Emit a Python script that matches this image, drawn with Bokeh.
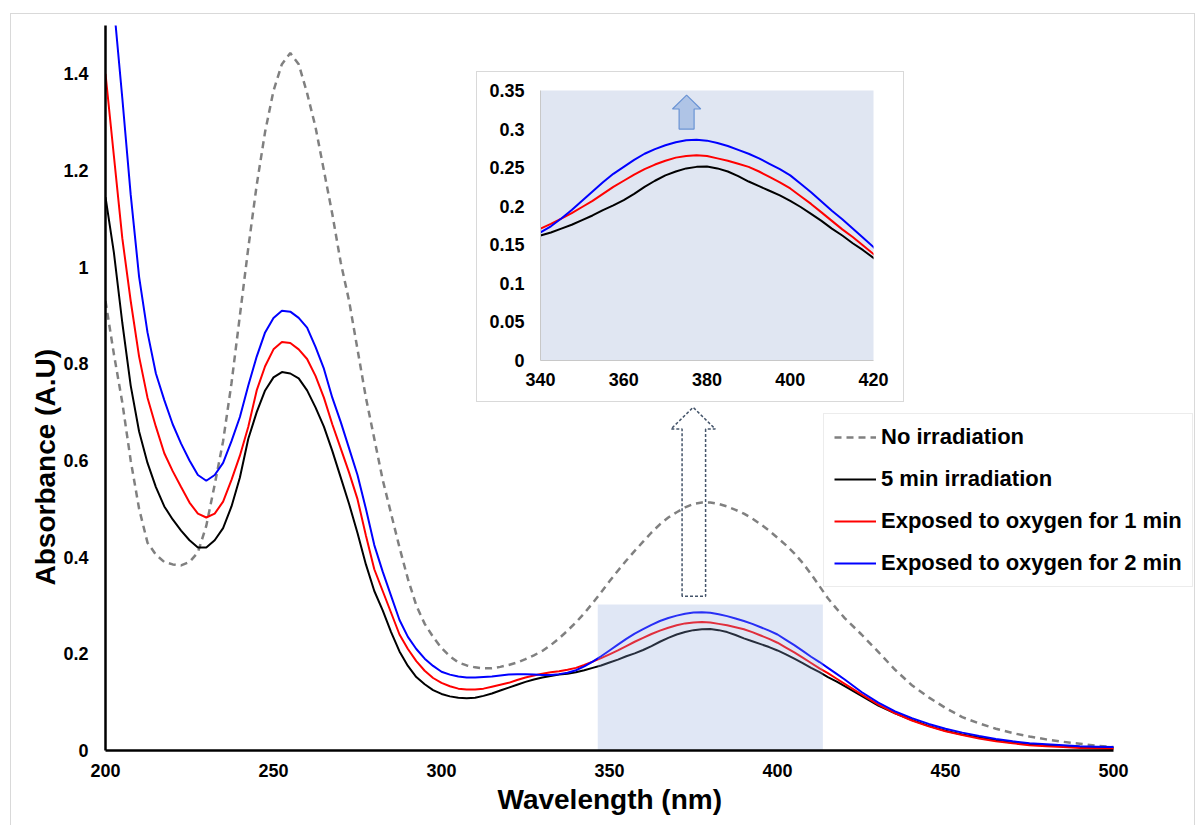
from bokeh.plotting import figure
from bokeh.models import Range1d, FixedTicker, Legend, LegendItem, Title, Div
from bokeh.embed import file_html
from bokeh.resources import INLINE

# ---------------- data ----------------
# wavelength grid: 2.5 nm steps up to 420 nm, 5 nm steps in the tail
wl_uv = [200, 202.5, 205, 207.5, 210, 212.5, 215, 217.5, 220, 222.5, 225, 227.5,
         230, 232.5, 235, 237.5, 240, 242.5, 245, 247.5, 250, 252.5, 255, 257.5,
         260, 262.5, 265, 267.5, 270, 272.5, 275, 277.5, 280, 282.5, 285, 287.5,
         290, 292.5, 295, 297.5, 300]
wl_band = [302.5, 305, 307.5, 310, 312.5, 315, 317.5, 320, 322.5, 325, 327.5, 330,
           332.5, 335, 337.5, 340, 342.5, 345, 347.5, 350, 352.5, 355, 357.5, 360,
           362.5, 365, 367.5, 370, 372.5, 375, 377.5, 380, 382.5, 385, 387.5, 390,
           392.5, 395, 397.5, 400, 402.5, 405, 407.5, 410, 412.5, 415, 417.5, 420]
wl_tail = [425, 430, 435, 440, 445, 450, 455, 460, 465, 470, 475, 480, 485, 490, 495, 500]

no_irr_uv = [0.93, 0.82, 0.72, 0.60, 0.50, 0.43, 0.405, 0.39, 0.385, 0.383, 0.39, 0.41,
             0.465, 0.55, 0.64, 0.76, 0.90, 1.04, 1.17, 1.28, 1.365, 1.42, 1.443, 1.42,
             1.36, 1.29, 1.20, 1.11, 1.01, 0.93, 0.83, 0.73, 0.645, 0.56, 0.49, 0.42,
             0.355, 0.30, 0.262, 0.235, 0.212]
no_irr_band = [0.195, 0.182, 0.176, 0.172, 0.170, 0.170, 0.173, 0.177, 0.182, 0.189, 0.197, 0.206,
               0.218, 0.232, 0.248, 0.265, 0.284, 0.305, 0.327, 0.35, 0.372, 0.393, 0.413, 0.432,
               0.451, 0.468, 0.482, 0.493, 0.503, 0.510, 0.513, 0.513, 0.510, 0.505, 0.498, 0.49,
               0.48, 0.468, 0.455, 0.44, 0.425, 0.408, 0.388, 0.365, 0.34, 0.315, 0.294, 0.274]
no_irr_tail = [0.24, 0.204, 0.167, 0.135, 0.11, 0.088, 0.069, 0.056, 0.045, 0.036, 0.029,
               0.023, 0.018, 0.014, 0.010, 0.007]

irr5_uv = [1.145, 1.03, 0.885, 0.755, 0.66, 0.595, 0.545, 0.505, 0.478, 0.455, 0.435, 0.42,
           0.42, 0.435, 0.46, 0.505, 0.565, 0.645, 0.70, 0.745, 0.772, 0.783, 0.78, 0.77,
           0.745, 0.71, 0.67, 0.62, 0.565, 0.51, 0.45, 0.385, 0.33, 0.29, 0.245, 0.205,
           0.175, 0.152, 0.137, 0.125, 0.117]
irr5_band = [0.112, 0.109, 0.108, 0.109, 0.113, 0.118, 0.124, 0.13, 0.136, 0.142, 0.147, 0.151,
             0.154, 0.157, 0.159, 0.162, 0.166, 0.171, 0.176, 0.182, 0.188, 0.195, 0.201, 0.208,
             0.216, 0.225, 0.233, 0.240, 0.245, 0.249, 0.251, 0.2515, 0.249, 0.245, 0.239, 0.232,
             0.226, 0.22, 0.214, 0.207, 0.199, 0.19, 0.181, 0.171, 0.162, 0.152, 0.143, 0.133]
irr5_tail = [0.113, 0.093, 0.077, 0.063, 0.051, 0.041, 0.033, 0.027, 0.021, 0.016, 0.013,
             0.011, 0.009, 0.007, 0.006, 0.005]

ox1_uv = [1.40, 1.23, 1.06, 0.93, 0.815, 0.73, 0.67, 0.615, 0.578, 0.545, 0.513, 0.49,
          0.482, 0.49, 0.515, 0.56, 0.61, 0.67, 0.745, 0.795, 0.83, 0.845, 0.843, 0.83,
          0.81, 0.775, 0.73, 0.675, 0.625, 0.575, 0.52, 0.445, 0.375, 0.33, 0.285, 0.24,
          0.21, 0.185, 0.165, 0.15, 0.14]
ox1_band = [0.133, 0.128, 0.126, 0.126, 0.128, 0.132, 0.136, 0.14, 0.146, 0.151, 0.155, 0.159,
            0.162, 0.164, 0.167, 0.171, 0.177, 0.184, 0.191, 0.199, 0.207, 0.216, 0.225, 0.233,
            0.241, 0.248, 0.254, 0.259, 0.263, 0.265, 0.266, 0.265, 0.262, 0.259, 0.255, 0.251,
            0.245, 0.238, 0.231, 0.223, 0.213, 0.203, 0.192, 0.181, 0.17, 0.16, 0.149, 0.138]
ox1_tail = [0.116, 0.095, 0.077, 0.062, 0.05, 0.04, 0.032, 0.025, 0.019, 0.015, 0.011,
            0.009, 0.007, 0.005, 0.004, 0.003]

ox2_uv = [1.72, 1.54, 1.35, 1.15, 0.98, 0.865, 0.78, 0.725, 0.675, 0.635, 0.60, 0.57,
          0.558, 0.57, 0.595, 0.64, 0.69, 0.755, 0.815, 0.865, 0.895, 0.91, 0.908, 0.895,
          0.875, 0.835, 0.79, 0.73, 0.68, 0.625, 0.57, 0.50, 0.425, 0.37, 0.32, 0.27,
          0.235, 0.21, 0.19, 0.175, 0.163]
ox2_band = [0.157, 0.153, 0.151, 0.151, 0.152, 0.153, 0.155, 0.157, 0.158, 0.158, 0.157, 0.156,
            0.156, 0.158, 0.161, 0.166, 0.174, 0.184, 0.195, 0.207, 0.219, 0.231, 0.242, 0.251,
            0.26, 0.268, 0.274, 0.279, 0.283, 0.2855, 0.286, 0.285, 0.282, 0.278, 0.273, 0.268,
            0.262, 0.255, 0.248, 0.24, 0.229, 0.218, 0.206, 0.194, 0.183, 0.171, 0.159, 0.147]
ox2_tail = [0.121, 0.099, 0.081, 0.067, 0.055, 0.045, 0.037, 0.030, 0.024, 0.019, 0.015,
            0.013, 0.011, 0.009, 0.008, 0.007]

wavelength = wl_uv + wl_band + wl_tail
no_irradiation = no_irr_uv + no_irr_band + no_irr_tail
irradiated_5min = irr5_uv + irr5_band + irr5_tail
oxygen_1min = ox1_uv + ox1_band + ox1_tail
oxygen_2min = ox2_uv + ox2_band + ox2_tail

series_labels = ["No irradiation", "5 min irradiation",
                 "Exposed to oxygen for 1 min", "Exposed to oxygen for 2 min"]

main_x_ticks = [200, 250, 300, 350, 400, 450, 500]
main_y_ticks = [0, 0.2, 0.4, 0.6, 0.8, 1.0, 1.2, 1.4]
main_y_labels = ["0", "0.2", "0.4", "0.6", "0.8", "1", "1.2", "1.4"]
inset_x_ticks = [340, 360, 380, 400, 420]
inset_y_ticks = [0, 0.05, 0.1, 0.15, 0.2, 0.25, 0.3, 0.35]
inset_y_labels = ["0", "0.05", "0.1", "0.15", "0.2", "0.25", "0.3", "0.35"]

# highlighted region in the main plot and the arrows
zoom_box_x = [346.5, 413.5]
zoom_box_y = [0.0, 0.302]
big_arrow_x = [371.6, 371.6, 368.3, 374.9, 381.5, 378.6, 378.6]
big_arrow_y = [0.319, 0.665, 0.665, 0.710, 0.665, 0.665, 0.319]
small_arrow_x = [373.3, 373.3, 371.7, 375.1, 378.5, 376.9, 376.9]
small_arrow_y = [0.300, 0.326, 0.326, 0.344, 0.326, 0.326, 0.300]

FONT = "Liberation Sans"

# ---------------- main figure ----------------
p = figure(width=1200, height=825, x_range=Range1d(200, 525), y_range=Range1d(0, 1.5),
           output_backend="svg", toolbar_location=None,
           min_border_left=105, min_border_right=3, min_border_top=25, min_border_bottom=75,
           background_fill_color="white", border_fill_color="white")
p.outline_line_color = None
p.xgrid.visible = False
p.ygrid.visible = False

r0 = p.line(wavelength, no_irradiation, line_color="#808080", line_width=2.5, line_dash="7 5")
r1 = p.line(wavelength, irradiated_5min, line_color="#000000", line_width=2)
r2 = p.line(wavelength, oxygen_1min, line_color="#FF0000", line_width=2)
r3 = p.line(wavelength, oxygen_2min, line_color="#0000FF", line_width=2)

p.quad(left=[zoom_box_x[0]], right=[zoom_box_x[1]], bottom=[zoom_box_y[0]], top=[zoom_box_y[1]],
       fill_color="#8FAADC", fill_alpha=0.28, line_color=None)

p.patch(big_arrow_x, big_arrow_y, fill_color=None, line_color="#44546A",
        line_width=1.5, line_dash="3 2")

for ax in (p.xaxis[0], p.yaxis[0]):
    ax.axis_line_color = "black"
    ax.axis_line_width = 2.5
    ax.major_tick_line_color = None
    ax.minor_tick_line_color = None
    ax.major_tick_out = 0
    ax.major_label_text_font = FONT
    ax.major_label_text_font_style = "bold"
    ax.major_label_text_font_size = "18px"
    ax.major_label_text_color = "black"

p.xaxis.bounds = (200, 500)
p.xaxis.ticker = FixedTicker(ticks=main_x_ticks)
p.yaxis.ticker = FixedTicker(ticks=main_y_ticks)
p.yaxis.major_label_overrides = {t: s for t, s in zip(main_y_ticks, main_y_labels)}
p.xaxis.major_label_standoff = 13
p.yaxis.major_label_standoff = 17

# axis titles (placed as side titles so they can be offset like the reference)
p.add_layout(Title(text="Wavelength (nm)", align="left", offset=392, standoff=4,
                   text_font=FONT, text_font_style="bold", text_font_size="28px",
                   text_color="black"), "below")
p.add_layout(Title(text="Absorbance (A.U)", align="left", offset=165, standoff=0,
                   text_font=FONT, text_font_style="bold", text_font_size="28px",
                   text_color="black"), "left")

legend = Legend(items=[LegendItem(label=series_labels[0], renderers=[r0]),
                       LegendItem(label=series_labels[1], renderers=[r1]),
                       LegendItem(label=series_labels[2], renderers=[r2]),
                       LegendItem(label=series_labels[3], renderers=[r3])],
                location=(718, 163), orientation="vertical",
                label_text_font=FONT, label_text_font_style="bold",
                label_text_font_size="22px", label_text_color="black",
                glyph_width=42, glyph_height=22, label_height=22, label_standoff=5,
                spacing=16, padding=10, margin=0,
                border_line_color="#D9D9D9", border_line_width=1,
                background_fill_color="white", background_fill_alpha=1.0)
p.add_layout(legend)

# ---------------- inset ----------------
inset = figure(width=428, height=331, x_range=Range1d(340, 420), y_range=Range1d(0, 0.35),
               output_backend="svg", toolbar_location=None,
               min_border_left=63, min_border_right=32, min_border_top=18, min_border_bottom=43,
               background_fill_color="#E0E6F2", border_fill_color="white",
               styles={"position": "absolute", "left": "476px", "top": "71px",
                       "border": "1px solid #D9D9D9"})
inset.outline_line_color = None
inset.xgrid.visible = False
inset.ygrid.visible = False
inset.line(wavelength, irradiated_5min, line_color="#000000", line_width=2)
inset.line(wavelength, oxygen_1min, line_color="#FF0000", line_width=2)
inset.line(wavelength, oxygen_2min, line_color="#0000FF", line_width=2)
inset.patch(small_arrow_x, small_arrow_y, fill_color="#AFC4E6", line_color="#6A93D4", line_width=1.2)

for ax in (inset.xaxis[0], inset.yaxis[0]):
    ax.axis_line_color = "#C8C8C8"
    ax.axis_line_width = 1
    ax.major_tick_line_color = None
    ax.minor_tick_line_color = None
    ax.major_tick_out = 0
    ax.major_label_text_font = FONT
    ax.major_label_text_font_style = "bold"
    ax.major_label_text_font_size = "18px"
    ax.major_label_text_color = "black"
inset.xaxis.ticker = FixedTicker(ticks=inset_x_ticks)
inset.yaxis.ticker = FixedTicker(ticks=inset_y_ticks)
inset.yaxis.major_label_overrides = {t: s for t, s in zip(inset_y_ticks, inset_y_labels)}
inset.xaxis.major_label_standoff = 12
inset.yaxis.major_label_standoff = 16

# outer chart-area border
frame_div = Div(text="", width=1185, height=820, margin=0,
                styles={"position": "absolute", "left": "10px", "top": "13px",
                        "border": "1px solid #D9D9D9", "pointer-events": "none"})

open("out.html", "w").write(file_html([p, frame_div, inset], INLINE))
